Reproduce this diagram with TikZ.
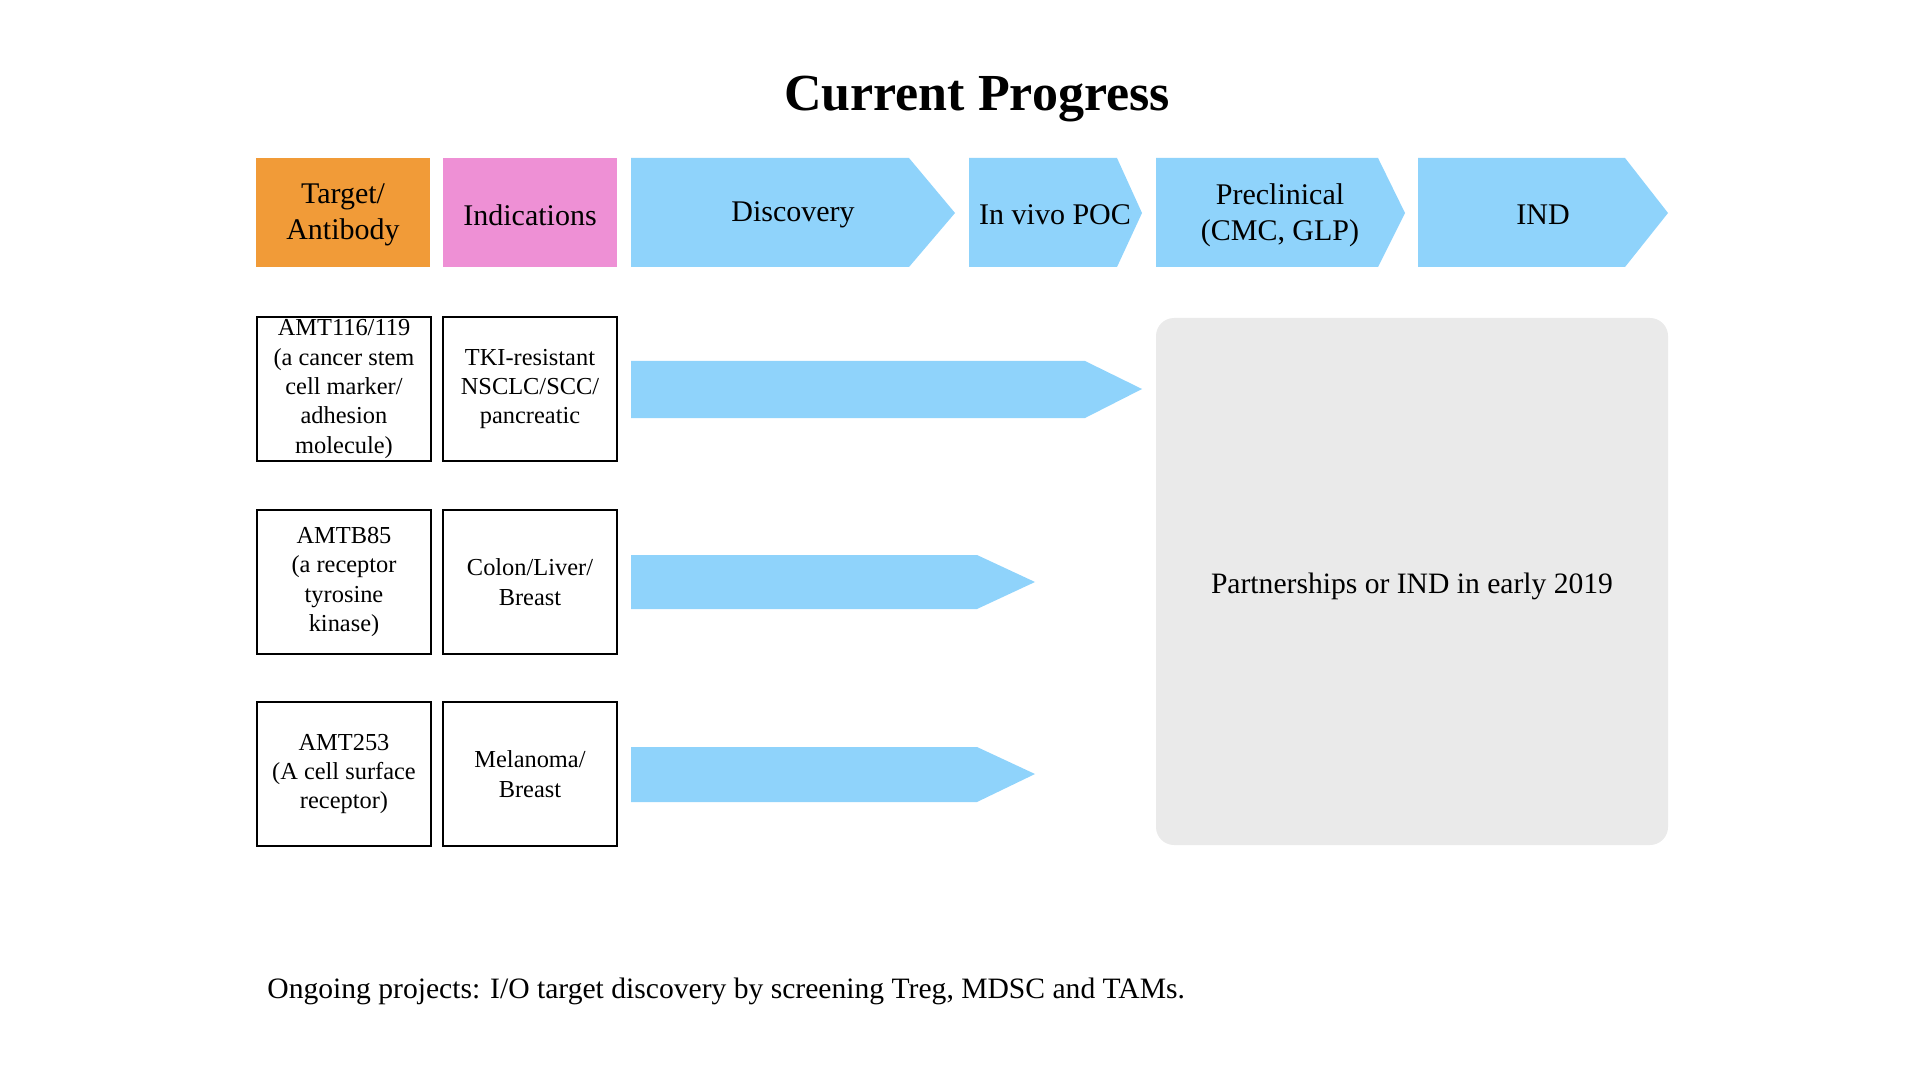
\documentclass[tikz,border=0pt]{standalone}
\usepackage{fontspec}
\setmainfont{Liberation Serif}
\usepackage{tikz}

\definecolor{targetorange}{HTML}{F19B38}
\definecolor{indpink}{HTML}{EE90D5}
\definecolor{stageblue}{HTML}{8FD3FB}
\definecolor{partnergray}{HTML}{EAEAEA}

\begin{document}
\begin{tikzpicture}[x=0.5pt, y=-0.5pt,
  every node/.style={font=\fontsize{15}{17.8}\selectfont, align=center, inner sep=0pt},
  rowbox/.style={draw, line width=1pt, minimum width=87pt, minimum height=72pt,
    font=\fontsize{12.2}{14.7}\selectfont}]
  \useasboundingbox (0,0) rectangle (1920,1080);

  \node (title) at (977,99) {\fontsize{26}{30}\selectfont\bfseries Current Progress};

  % header row
  \fill[targetorange] (256,158) rectangle (430,267);
  \node (target) at (343,215) {Target/\\Antibody};
  \fill[indpink] (443,158) rectangle (617,267);
  \node (indic) at (530,215) {Indications};
  \fill[stageblue] (631,158) -- (909,158) -- (955,213) -- (909,267) -- (631,267) -- cycle;
  \node (disc) at (793,215) {Discovery};
  \fill[stageblue] (969,158) -- (1117,158) -- (1142,213) -- (1117,267) -- (969,267) -- cycle;
  \node (poc) at (1055,215) {In vivo POC};
  \fill[stageblue] (1156,158) -- (1378,158) -- (1405,213) -- (1378,267) -- (1156,267) -- cycle;
  \node (precl) at (1280,215) {Preclinical\\(CMC, GLP)};
  \fill[stageblue] (1418,158) -- (1625,158) -- (1668,213) -- (1625,267) -- (1418,267) -- cycle;
  \node (ind) at (1543,215) {IND};

  % antibody rows
  \node[rowbox] (amt116) at (344,389) {AMT116/119\\(a cancer stem\\cell marker/\\adhesion\\molecule)};
  \node[rowbox] (tki) at (530,389) {TKI-resistant\\NSCLC/SCC/\\pancreatic};
  \fill[stageblue] (631,361) -- (1085,361) -- (1142,389) -- (1085,418) -- (631,418) -- cycle;

  \node[rowbox] (amtb85) at (344,582) {AMTB85\\(a receptor\\tyrosine\\kinase)};
  \node[rowbox] (colon) at (530,582) {Colon/Liver/\\Breast};
  \fill[stageblue] (631,555) -- (977,555) -- (1035,582) -- (977,609) -- (631,609) -- cycle;

  \node[rowbox] (amt253) at (344,774) {AMT253\\(A cell surface\\receptor)};
  \node[rowbox] (mela) at (530,774) {Melanoma/\\Breast};
  \fill[stageblue] (631,747) -- (977,747) -- (1035,774) -- (977,802) -- (631,802) -- cycle;

  % partnership panel
  \fill[partnergray, rounded corners=9pt] (1156,318) rectangle (1668,845);
  \node[font=\fontsize{14.8}{17.8}\selectfont] (partner) at (1412,586) {Partnerships or IND in early 2019};

  \node[anchor=west, font=\fontsize{14.8}{17.8}\selectfont] (ongoing) at (267,991) {Ongoing projects: I/O target discovery by screening Treg, MDSC and TAMs.};
\end{tikzpicture}
\end{document}
